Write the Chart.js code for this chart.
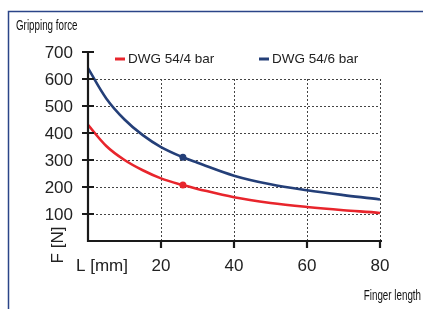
<!DOCTYPE html>
<html>
<head>
<meta charset="utf-8">
<script src="https://cdn.jsdelivr.net/npm/chart.js"></script>
<style>
  html, body { margin: 0; padding: 0; background: #fff; }
  #wrap { position: relative; width: 423px; height: 309px; overflow: hidden; }
  canvas { position: absolute; left: 0; top: 0; }
</style>
</head>
<body>
<div id="wrap"><canvas id="chart" width="423" height="309"></canvas></div>
<script>
// finger length L [mm] and gripping force F [N]
const fingerLength = [0, 5, 10, 15, 20, 26, 30, 40, 50, 60, 70, 80, 81.5];
const force4bar = [430, 352, 300, 262, 232, 207, 193, 162, 141, 126, 114, 104, 100];
const force6bar = [640, 528, 450, 392, 348, 310, 290, 242, 210, 188, 170, 154, 150];
const seriesLabels = ['DWG 54/4 bar', 'DWG 54/6 bar'];
const markedLength = 26;

const xTicks = [20, 40, 60, 80];
const yTicks = [100, 200, 300, 400, 500, 600, 700];
const gridTop = 600;

const RED = '#e8252c';
const BLUE = '#243f78';
const FRAME = '#2b4488';
const FONT = '"Liberation Sans", Arial, sans-serif';

function toPoints(ys) {
    return fingerLength.map((x, i) => ({ x: x, y: ys[i] }));
}

function markerRadius(ctx) {
    return fingerLength[ctx.dataIndex] === markedLength ? 3.5 : 0;
}

// condensed caption text (squeezed horizontally)
function narrowText(ctx, text, x, y, align) {
    const squeeze = 0.7;
    ctx.save();
    ctx.font = '14px ' + FONT;
    const w = ctx.measureText(text).width * squeeze;
    const left = align === 'right' ? x - w : x;
    ctx.translate(left, y);
    ctx.scale(squeeze, 1);
    ctx.textAlign = 'left';
    ctx.fillText(text, 0, 0);
    ctx.restore();
}

// frame, grid, axes, labels and legend
const decorPlugin = {
    id: 'decor',
    beforeDatasetsDraw(chart) {
        const ctx = chart.ctx;
        const xs = chart.scales.x, ys = chart.scales.y;
        ctx.save();

        // outer frame (top + left)
        ctx.strokeStyle = FRAME;
        ctx.lineWidth = 1.5;
        ctx.beginPath();
        ctx.moveTo(423, 11.5);
        ctx.lineTo(8.5, 11.5);
        ctx.lineTo(8.5, 309);
        ctx.stroke();

        // dotted grid
        const x0 = xs.getPixelForValue(0);
        const xEnd = xs.getPixelForValue(xTicks[xTicks.length - 1]);
        const y0 = ys.getPixelForValue(0);
        const yTop = ys.getPixelForValue(gridTop);
        ctx.strokeStyle = '#444';
        ctx.lineWidth = 1;
        ctx.setLineDash([2, 2]);
        ctx.beginPath();
        yTicks.filter(v => v <= gridTop).forEach(v => {
            const y = Math.round(ys.getPixelForValue(v)) + 0.5;
            ctx.moveTo(x0, y);
            ctx.lineTo(xEnd, y);
        });
        xTicks.forEach(v => {
            const x = Math.round(xs.getPixelForValue(v)) + 0.5;
            ctx.moveTo(x, yTop);
            ctx.lineTo(x, y0);
        });
        ctx.stroke();
        ctx.setLineDash([]);
        ctx.restore();
    },
    afterDatasetsDraw(chart) {
        const ctx = chart.ctx;
        const xs = chart.scales.x, ys = chart.scales.y;
        const x0 = xs.getPixelForValue(0);
        const y0 = ys.getPixelForValue(0);
        ctx.save();

        // axes
        ctx.strokeStyle = '#1a1a1a';
        ctx.lineWidth = 2.2;
        ctx.beginPath();
        ctx.moveTo(x0, ys.getPixelForValue(yTicks[yTicks.length - 1]));
        ctx.lineTo(x0, y0);
        ctx.lineTo(xs.getPixelForValue(80) + 2, y0);
        yTicks.forEach(v => {
            const y = ys.getPixelForValue(v);
            ctx.moveTo(x0 - 6, y);
            ctx.lineTo(x0 + 6, y);
        });
        xTicks.forEach(v => {
            const x = xs.getPixelForValue(v);
            ctx.moveTo(x, y0);
            ctx.lineTo(x, y0 + 7);
        });
        ctx.stroke();

        // tick labels
        ctx.fillStyle = '#222';
        ctx.font = '17px ' + FONT;
        ctx.textAlign = 'right';
        ctx.textBaseline = 'middle';
        yTicks.forEach(v => ctx.fillText(String(v), 73, ys.getPixelForValue(v) + 1));
        ctx.textAlign = 'center';
        ctx.textBaseline = 'alphabetic';
        xTicks.forEach(v => ctx.fillText(String(v), xs.getPixelForValue(v), 271));

        // axis units
        ctx.textAlign = 'left';
        ctx.fillText('L [mm]', 76, 271);
        ctx.save();
        ctx.translate(63, 245);
        ctx.rotate(-Math.PI / 2);
        ctx.textAlign = 'center';
        ctx.fillText('F [N]', 0, 0);
        ctx.restore();

        // captions
        ctx.fillStyle = '#111';
        narrowText(ctx, 'Gripping force', 16, 30, 'left');
        narrowText(ctx, 'Finger length', 421, 300, 'right');

        // legend
        const legendX = [115, 259];
        ctx.font = '13.5px ' + FONT;
        ctx.textAlign = 'left';
        ctx.textBaseline = 'middle';
        chart.data.datasets.forEach((ds, i) => {
            ctx.fillStyle = ds.borderColor;
            ctx.fillRect(legendX[i], 57.5, 10, 3);
            ctx.fillStyle = '#222';
            ctx.fillText(ds.label, legendX[i] + 13, 59.5);
        });
        ctx.restore();
    }
};

new Chart(document.getElementById('chart'), {
    type: 'line',
    data: {
        datasets: [
            {
                label: seriesLabels[0],
                data: toPoints(force4bar),
                borderColor: RED,
                backgroundColor: RED,
                borderWidth: 2.6,
                pointRadius: markerRadius,
                pointBorderWidth: 0,
                tension: 0.35,
                clip: false
            },
            {
                label: seriesLabels[1],
                data: toPoints(force6bar),
                borderColor: BLUE,
                backgroundColor: BLUE,
                borderWidth: 2.6,
                pointRadius: markerRadius,
                pointBorderWidth: 0,
                tension: 0.35,
                clip: false
            }
        ]
    },
    options: {
        responsive: false,
        animation: false,
        devicePixelRatio: 1,
        layout: { padding: { left: 88, top: 52, right: 43, bottom: 68 } },
        scales: {
            x: { type: 'linear', min: 0, max: 80, display: false },
            y: { type: 'linear', min: 0, max: 700, display: false }
        },
        plugins: {
            legend: { display: false },
            tooltip: { enabled: false }
        }
    },
    plugins: [decorPlugin]
});
</script>
</body>
</html>
